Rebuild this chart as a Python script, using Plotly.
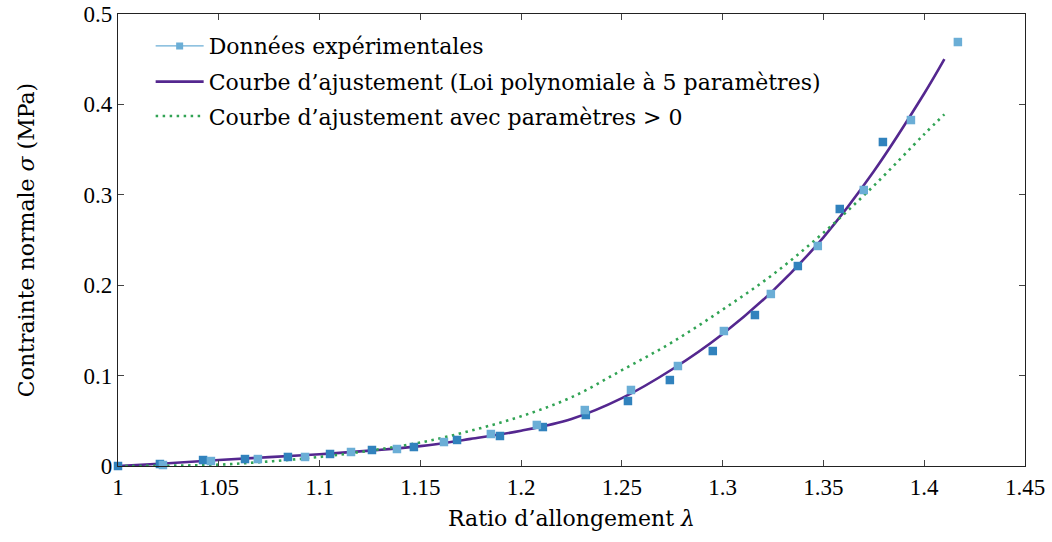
import plotly.graph_objects as go

# donnees experimentales (deux series de carres bleus)
lam_a = [1.0223, 1.0461, 1.0694, 1.0928, 1.1156, 1.1384, 1.1617, 1.1850, 1.2078,
         1.2316, 1.2545, 1.2778, 1.3006, 1.3239, 1.3472, 1.3700, 1.3934, 1.4167]
sig_a = [0.0011, 0.0055, 0.0077, 0.0100, 0.0155, 0.0188, 0.0265, 0.0354, 0.0454,
         0.0619, 0.0841, 0.1106, 0.1493, 0.1903, 0.2434, 0.3053, 0.3827, 0.4690]

lam_b = [1.0, 1.0208, 1.0422, 1.0630, 1.0843, 1.1052, 1.1260, 1.1468, 1.1682, 1.1895,
         1.2108, 1.2321, 1.2530, 1.2738, 1.2951, 1.3160, 1.3373, 1.3581, 1.3795]
sig_b = [0.0, 0.0022, 0.0066, 0.0077, 0.0100, 0.0133, 0.0177, 0.0210, 0.0288, 0.0332,
         0.0431, 0.0564, 0.0719, 0.0951, 0.1272, 0.1670, 0.2212, 0.2843, 0.3584]

# courbes d'ajustement
lam_fit = [1.0, 1.025, 1.05, 1.075, 1.1, 1.125, 1.15, 1.175, 1.2, 1.225,
           1.25, 1.275, 1.3, 1.325, 1.35, 1.375, 1.4, 1.41]
sig_poly = [0.0, 0.003, 0.0066, 0.0098, 0.013, 0.017, 0.022, 0.030, 0.039, 0.052,
            0.075, 0.107, 0.146, 0.194, 0.253, 0.326, 0.412, 0.450]
sig_pos = [0.0, 0.0003, 0.0015, 0.005, 0.010, 0.017, 0.026, 0.039, 0.055, 0.076,
           0.106, 0.137, 0.173, 0.212, 0.258, 0.310, 0.367, 0.389]

x_ticks = [1, 1.05, 1.1, 1.15, 1.2, 1.25, 1.3, 1.35, 1.4, 1.45]
x_labels = ["1", "1.05", "1.1", "1.15", "1.2", "1.25", "1.3", "1.35", "1.4", "1.45"]
y_ticks = [0, 0.1, 0.2, 0.3, 0.4, 0.5]
y_labels = ["0", "0.1", "0.2", "0.3", "0.4", "0.5"]

light = "#6baed6"
dark = "#3182bd"
purple = "#54278f"
green = "#31a354"
tickfont = "Liberation Serif"
textfont = "DejaVu Serif"

fig = go.Figure()

fig.add_trace(go.Scatter(x=lam_fit, y=sig_poly, mode="lines", line_shape="spline",
                         line=dict(color=purple, width=2.6), showlegend=False))
fig.add_trace(go.Scatter(x=lam_fit, y=sig_pos, mode="lines", line_shape="spline",
                         line=dict(color=green, width=2.6, dash="2.5px,4.5px"), showlegend=False))
fig.add_trace(go.Scatter(x=lam_b, y=sig_b, mode="markers", cliponaxis=False,
                         marker=dict(symbol="square", size=8.5, color=dark), showlegend=False))
fig.add_trace(go.Scatter(x=lam_a, y=sig_a, mode="markers", cliponaxis=False,
                         marker=dict(symbol="square", size=8.5, color=light), showlegend=False))

# entrees de legende (une legende par ligne pour regler l'interligne)
fig.add_trace(go.Scatter(x=[None], y=[None], mode="lines+markers",
                         line=dict(color=light, width=1.2),
                         marker=dict(symbol="square", size=7, color=light),
                         name="Données expérimentales", legend="legend"))
fig.add_trace(go.Scatter(x=[None], y=[None], mode="lines",
                         line=dict(color=purple, width=2.6),
                         name="Courbe d’ajustement (Loi polynomiale à 5 paramètres)",
                         legend="legend2"))
fig.add_trace(go.Scatter(x=[None], y=[None], mode="lines",
                         line=dict(color=green, width=2.6, dash="2.5px,4.5px"),
                         name="Courbe d’ajustement avec paramètres > 0", legend="legend3"))

axis_style = dict(showline=True, linecolor="#222", linewidth=1.2, mirror="allticks",
                  ticks="inside", ticklen=6, tickcolor="#444", showgrid=False,
                  zeroline=False, automargin=False, ticklabeloverflow="allow",
                  tickfont=dict(family=tickfont, size=23, color="black"))

fig.update_xaxes(range=[1, 1.45], tickvals=x_ticks, ticktext=x_labels,
                 title=dict(text="Ratio d’allongement <i>λ</i>",
                            font=dict(family=textfont, size=22, color="black"), standoff=11),
                 **axis_style)
fig.update_yaxes(range=[0, 0.5], tickvals=y_ticks, ticktext=y_labels,
                 title=dict(text="Contrainte normale <i>σ</i> (MPa)",
                            font=dict(family=textfont, size=22, color="black"), standoff=42),
                 **axis_style)

leg = dict(x=0.036, xanchor="left", yanchor="middle", bgcolor="rgba(255,255,255,0)",
           borderwidth=0, font=dict(family=textfont, size=22, color="black"), itemwidth=48)
fig.update_layout(
    width=1052, height=542,
    margin=dict(l=118, r=27, t=14, b=76),
    plot_bgcolor="white", paper_bgcolor="white",
    font=dict(family=textfont, size=22, color="black"),
    legend=dict(leg, y=0.929),
    legend2=dict(leg, y=0.850),
    legend3=dict(leg, y=0.774),
)

fig.write_html("out.html", config={"displayModeBar": False},
               post_script="document.body.style.margin='0';")
